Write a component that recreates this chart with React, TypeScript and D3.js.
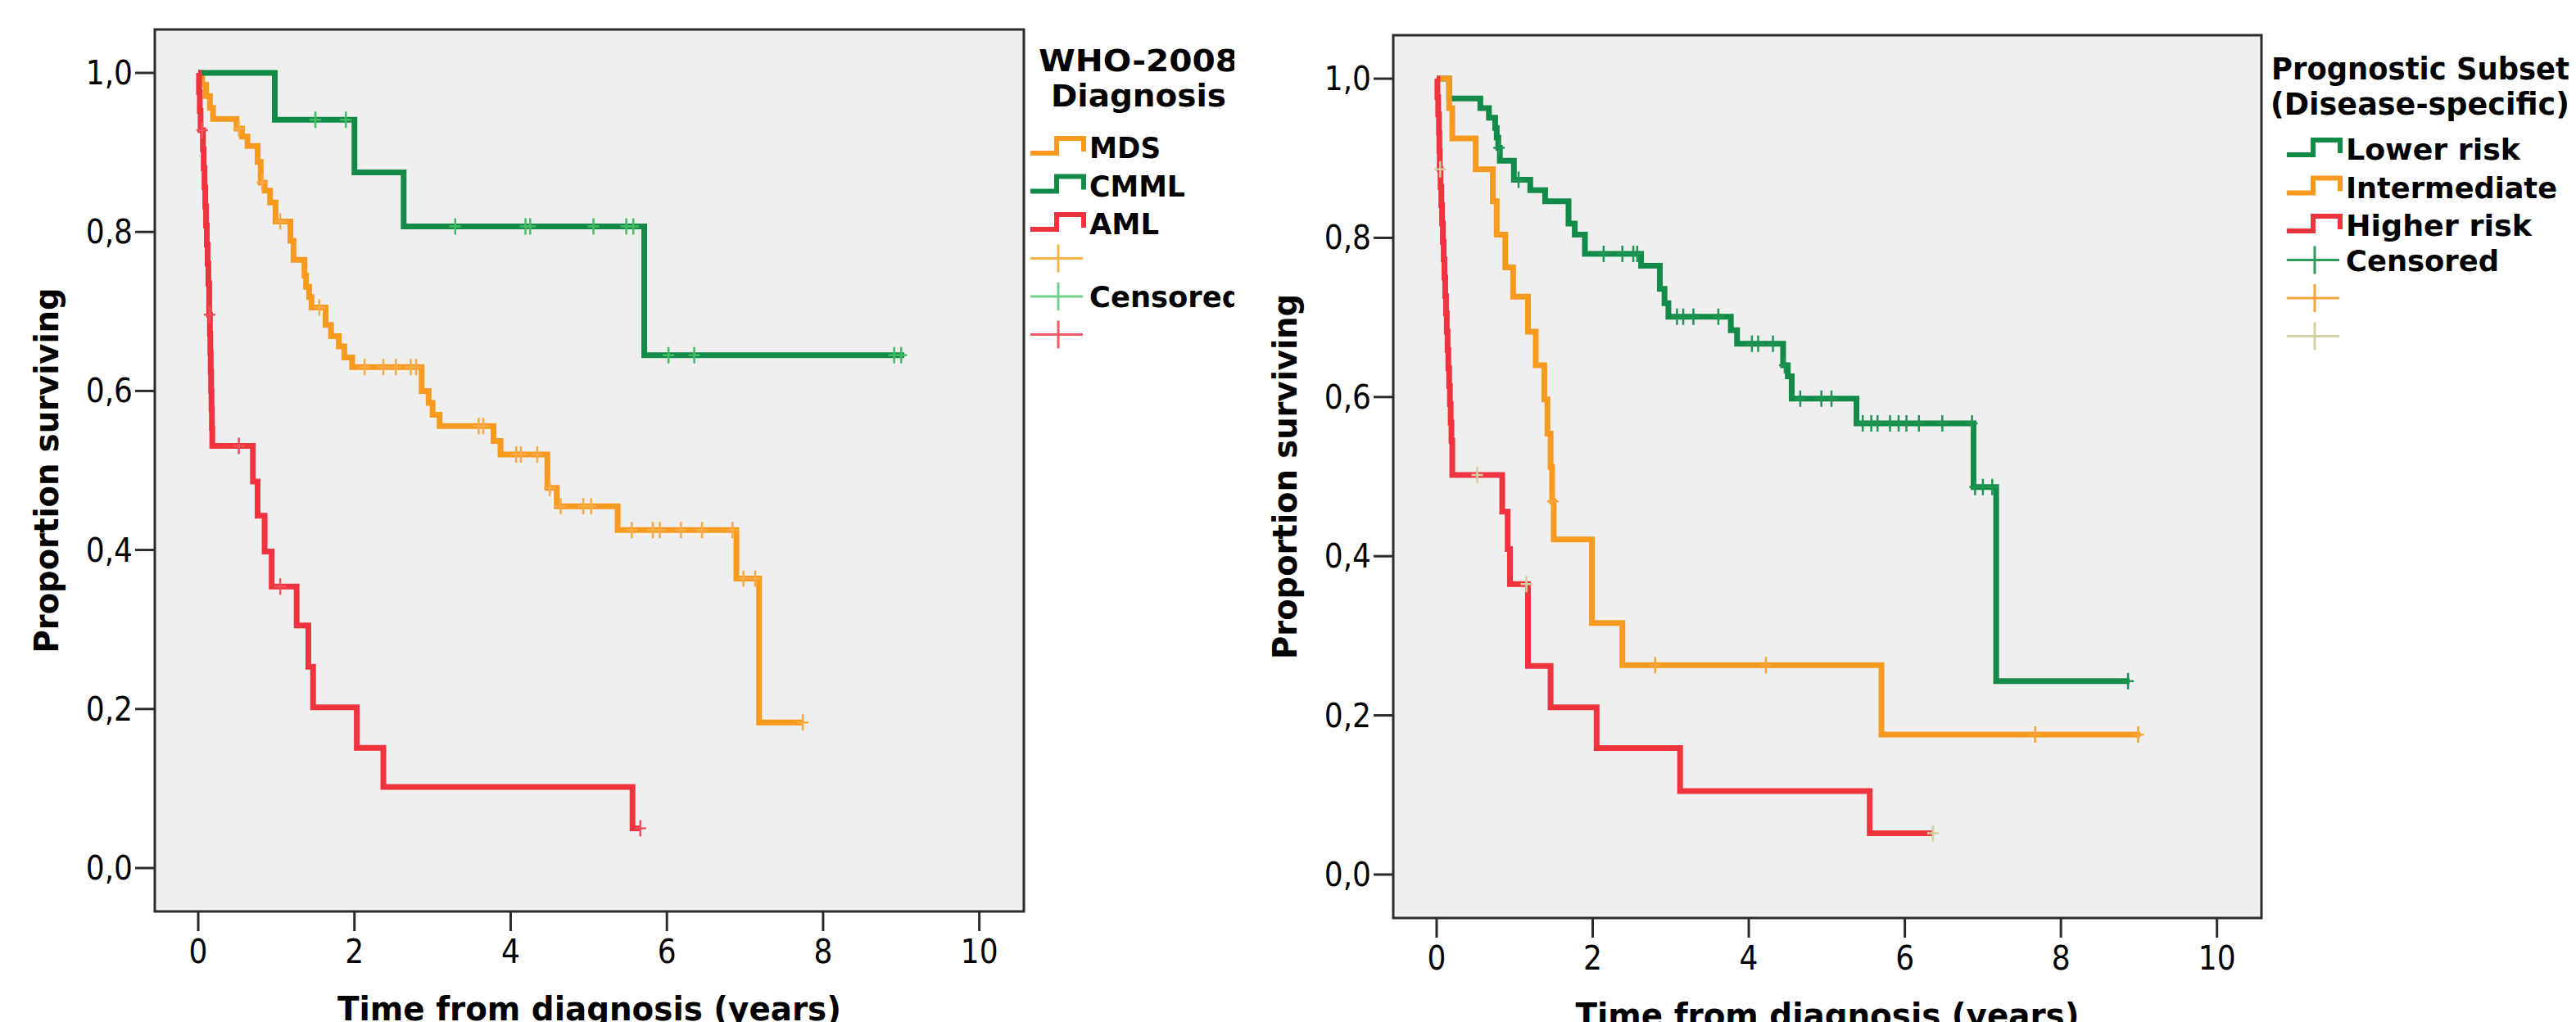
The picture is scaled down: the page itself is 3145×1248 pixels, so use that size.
import React from 'react';
import * as d3 from 'd3';

// axis ticks (shared by both panels)
const xTicks = [0, 2, 4, 6, 8, 10];
const yTicks = [0, 0.2, 0.4, 0.6, 0.8, 1.0];
const fmtY = (v: number) => v.toFixed(1).replace('.', ',');

// ---- left panel: WHO-2008 diagnosis ----
// steps are [time in years, proportion surviving after the event]
const mdsSteps: [number, number][] = [
  [0.05, 0.985], [0.1, 0.971], [0.15, 0.956], [0.19, 0.942], [0.49, 0.93], [0.56, 0.92],
  [0.63, 0.908], [0.76, 0.888], [0.8, 0.862], [0.85, 0.852], [0.92, 0.837], [0.99, 0.813],
  [1.18, 0.789], [1.22, 0.765], [1.36, 0.745], [1.38, 0.731], [1.42, 0.718], [1.45, 0.705],
  [1.63, 0.683], [1.7, 0.669], [1.8, 0.656], [1.87, 0.642], [1.97, 0.63], [2.86, 0.6],
  [2.95, 0.585], [3.0, 0.57], [3.09, 0.556], [3.78, 0.537], [3.87, 0.52], [4.47, 0.478],
  [4.59, 0.455], [5.37, 0.425], [6.89, 0.364], [7.18, 0.183]
];
const mdsCensored = [0.52, 0.82, 1.05, 1.55, 2.13, 2.37, 2.53, 2.72, 2.79, 3.59, 3.65, 4.07,
  4.13, 4.34, 4.5, 4.64, 4.93, 5.03, 5.55, 5.82, 5.91, 6.18, 6.45, 6.84, 6.98, 7.13, 7.74];
const mdsEnd = 7.74;

const cmmlSteps: [number, number][] = [[0.98, 0.941], [2.0, 0.875], [2.63, 0.807], [5.71, 0.645]];
const cmmlCensored = [1.5, 1.89, 3.29, 4.19, 4.25, 5.06, 5.48, 5.57, 6.02, 6.35, 8.91, 9.0];
const cmmlEnd = 9.04;

const amlSteps: [number, number][] = [
  [0.01, 0.976], [0.02, 0.952], [0.03, 0.928], [0.06, 0.904], [0.07, 0.88], [0.08, 0.856],
  [0.09, 0.832], [0.1, 0.808], [0.11, 0.784], [0.12, 0.76], [0.13, 0.735], [0.14, 0.696],
  [0.15, 0.672], [0.155, 0.648], [0.16, 0.624], [0.165, 0.6], [0.17, 0.577], [0.175, 0.553],
  [0.18, 0.531], [0.7, 0.486], [0.76, 0.443], [0.85, 0.398], [0.94, 0.354], [1.26, 0.305],
  [1.41, 0.253], [1.47, 0.202], [2.03, 0.151], [2.37, 0.102], [5.56, 0.05]
];
const amlCensored = [0.05, 0.145, 0.52, 1.05, 5.66];
const amlEnd = 5.66;

// ---- right panel: prognostic subset ----
const lowSteps: [number, number][] = [
  [0.16, 0.975], [0.56, 0.963], [0.67, 0.951], [0.75, 0.938], [0.77, 0.926], [0.79, 0.913],
  [0.81, 0.897], [0.99, 0.873], [1.2, 0.86], [1.39, 0.846], [1.69, 0.818], [1.77, 0.804],
  [1.9, 0.78], [2.62, 0.765], [2.86, 0.736], [2.92, 0.718], [2.97, 0.701], [3.77, 0.684],
  [3.85, 0.667], [4.44, 0.64], [4.5, 0.626], [4.55, 0.598], [5.38, 0.567], [6.88, 0.487],
  [7.17, 0.243]
];
const lowCensored = [0.8, 1.05, 2.14, 2.38, 2.52, 2.57, 3.08, 3.16, 3.29, 3.61, 4.04, 4.12,
  4.31, 4.46, 4.66, 4.93, 5.06, 5.46, 5.57, 5.65, 5.81, 5.92, 6.02, 6.18, 6.48, 6.86, 6.9,
  7.0, 7.12, 8.86];
const lowEnd = 8.88;

const midSteps: [number, number][] = [
  [0.16, 0.963], [0.2, 0.925], [0.5, 0.886], [0.72, 0.846], [0.77, 0.804], [0.88, 0.763],
  [0.98, 0.726], [1.17, 0.682], [1.27, 0.64], [1.38, 0.597], [1.42, 0.554], [1.46, 0.512],
  [1.48, 0.469], [1.5, 0.421], [1.99, 0.316], [2.38, 0.263], [5.7, 0.176]
];
const midCensored = [1.49, 2.8, 4.22, 7.67, 8.99];
const midEnd = 9.02;

const highSteps: [number, number][] = [
  [0.01, 0.977], [0.02, 0.955], [0.03, 0.932], [0.035, 0.909], [0.04, 0.886], [0.05, 0.864],
  [0.06, 0.841], [0.07, 0.818], [0.08, 0.795], [0.09, 0.773], [0.1, 0.75], [0.11, 0.727],
  [0.12, 0.705], [0.13, 0.682], [0.14, 0.659], [0.15, 0.636], [0.16, 0.614], [0.17, 0.591],
  [0.18, 0.568], [0.19, 0.545], [0.2, 0.502], [0.84, 0.456], [0.91, 0.409], [0.94, 0.365],
  [1.17, 0.262], [1.46, 0.21], [2.05, 0.159], [3.12, 0.105], [5.55, 0.052]
];
const highCensored = [0.045, 0.52, 1.15, 6.36];
const highEnd = 6.36;

const GREEN = '#138b48';
const ORANGE = '#f89a1f';
const RED = '#ef343f';

const FONT = "'DejaVu Sans Condensed', 'Liberation Sans Narrow', 'DejaVu Sans', sans-serif";

type Series = {
  steps: [number, number][];
  censored: number[];
  end: number;
  color: string;
  censorColor: string;
};

function survivalAt(steps: [number, number][], t: number) {
  let s = 1;
  steps.forEach(d => { if (d[0] <= t) s = d[1]; });
  return s;
}

function Panel(props: any) {
  const { frame, series, legend, yTitleX, xTitleY, clipRight, id } = props;
  const x = d3.scaleLinear().domain([-0.556, 10.57]).range([frame.x0, frame.x1]);
  const y = d3.scaleLinear().domain([-0.0546, 1.0546]).range([frame.y1, frame.y0]);
  const line = d3.line<[number, number]>()
    .x(d => x(d[0]))
    .y(d => y(d[1]))
    .curve(d3.curveStepAfter);

  const cx = (frame.x0 + frame.x1) / 2;
  const cy = (frame.y0 + frame.y1) / 2;
  const rowH = 46.5;

  return (
    <g clipPath={`url(#${id})`}>
      <clipPath id={id}>
        <rect x={clipRight - 1600} y={0} width={1600} height={1248} />
      </clipPath>
      <rect x={frame.x0} y={frame.y0} width={frame.x1 - frame.x0} height={frame.y1 - frame.y0}
        fill="#efefef" stroke="#2b2b2b" strokeWidth={3} />

      {series.map((s: Series, i: number) => {
        const last = s.steps[s.steps.length - 1][1];
        const pts: [number, number][] = [[0, 1], ...s.steps, [s.end, last]];
        return <path key={'l' + i} d={line(pts) || ''} fill="none" stroke={s.color} strokeWidth={7} />;
      })}
      {series.map((s: Series, i: number) => (
        <g key={'c' + i} stroke={s.censorColor} strokeWidth={2.5}>
          {s.censored.map((t, j) => {
            const px = x(t), py = y(survivalAt(s.steps, t));
            return <path key={j} d={`M${px},${py - 10}V${py + 10}M${px - 7},${py}H${px + 7}`} />;
          })}
        </g>
      ))}

      {/* y axis */}
      {yTicks.map(v => (
        <g key={'y' + v}>
          <line x1={frame.x0 - 24} x2={frame.x0} y1={y(v)} y2={y(v)} stroke="#2b2b2b" strokeWidth={3} />
          <text x={frame.x0 - 27} y={y(v) + 14} textAnchor="end" fontFamily={FONT} fontSize={40}>{fmtY(v)}</text>
        </g>
      ))}
      {/* x axis */}
      {xTicks.map(v => (
        <g key={'x' + v}>
          <line x1={x(v)} x2={x(v)} y1={frame.y1} y2={frame.y1 + 24} stroke="#2b2b2b" strokeWidth={3} />
          <text x={x(v)} y={frame.y1 + 63} textAnchor="middle" fontFamily={FONT} fontSize={40}>{v}</text>
        </g>
      ))}
      <text transform={`translate(${yTitleX},${cy}) rotate(-90)`} textAnchor="middle" fontFamily={FONT}
        fontWeight="bold" fontSize={41} textLength={446} lengthAdjust="spacingAndGlyphs">Proportion surviving</text>
      <text x={cx} y={xTitleY} textAnchor="middle" fontFamily={FONT} fontWeight="bold" fontSize={41}
        textLength={615} lengthAdjust="spacingAndGlyphs">Time from diagnosis (years)</text>

      {/* legend */}
      {legend.title.map((t: any, i: number) => (
        <text key={'t' + i} x={t.x} y={legend.titleY + i * 43} textAnchor={t.anchor} fontFamily={FONT}
          fontWeight="bold" fontSize={37} textLength={t.w} lengthAdjust="spacingAndGlyphs">{t.text}</text>
      ))}
      {legend.items.map((it: any, i: number) => {
        const b = legend.row0 + i * rowH;
        const lx = legend.x;
        return (
          <g key={'i' + i}>
            <path d={`M${lx},${b - 6}H${lx + 32}V${b - 24}H${lx + 65}V${b - 8}`} fill="none"
              stroke={it.color} strokeWidth={6} />
            <text x={lx + 72} y={b} fontFamily={FONT} fontWeight="bold" fontSize={36}
              textLength={it.w} lengthAdjust="spacingAndGlyphs">{it.label}</text>
          </g>
        );
      })}
      {legend.crosses.map((c: any, i: number) => {
        const cyy = legend.row0 + (i + 3) * rowH - 17;
        const lx = legend.x;
        return (
          <g key={'x' + i}>
            <path d={`M${lx},${cyy}H${lx + 64}M${lx + 34},${cyy - 17}V${cyy + 17}`} stroke={c.color} strokeWidth={3} />
            {c.label && (
              <text x={lx + 72} y={cyy + 13} fontFamily={FONT} fontWeight="bold" fontSize={36}
                textLength={187} lengthAdjust="spacingAndGlyphs">{c.label}</text>
            )}
          </g>
        );
      })}
    </g>
  );
}

export default function App() {
  const leftSeries: Series[] = [
    { steps: mdsSteps, censored: mdsCensored, end: mdsEnd, color: ORANGE, censorColor: '#f7ab47' },
    { steps: cmmlSteps, censored: cmmlCensored, end: cmmlEnd, color: GREEN, censorColor: '#45bb66' },
    { steps: amlSteps, censored: amlCensored, end: amlEnd, color: RED, censorColor: '#f0525c' }
  ];
  const rightSeries: Series[] = [
    { steps: lowSteps, censored: lowCensored, end: lowEnd, color: GREEN, censorColor: '#1f9553' },
    { steps: midSteps, censored: midCensored, end: midEnd, color: ORANGE, censorColor: '#f7a438' },
    { steps: highSteps, censored: highCensored, end: highEnd, color: RED, censorColor: '#d5cf9f' }
  ];
  const leftLegend = {
    x: 1258, row0: 193, titleY: 87,
    title: [{ text: 'WHO-2008', x: 1390, anchor: 'middle', w: 244 }, { text: 'Diagnosis', x: 1390, anchor: 'middle', w: 214 }],
    items: [{ label: 'MDS', color: ORANGE, w: 87 }, { label: 'CMML', color: GREEN, w: 117 }, { label: 'AML', color: RED, w: 85 }],
    crosses: [{ color: '#f8b14d' }, { color: '#74d18c', label: 'Censored' }, { color: '#f25a66' }]
  };
  const rightLegend = {
    x: 2792, row0: 195, titleY: 97,
    title: [{ text: 'Prognostic Subset', x: 2773, anchor: 'start', w: 364 }, { text: '(Disease-specific)', x: 2772, anchor: 'start', w: 365 }],
    items: [{ label: 'Lower risk', color: GREEN, w: 213 }, { label: 'Intermediate', color: ORANGE, w: 258 }, { label: 'Higher risk', color: RED, w: 227 }],
    crosses: [{ color: '#2a9a5a', label: 'Censored' }, { color: '#f7a33a' }, { color: '#d4d0a4' }]
  };
  return (
    <svg width={3145} height={1248} style={{ position: 'absolute', left: 0, top: 0, background: '#fff' }}>
      <Panel id="clipL" frame={{ x0: 189, x1: 1250, y0: 36, y1: 1113 }} series={leftSeries} legend={leftLegend}
        yTitleX={71} xTitleY={1246} clipRight={1507} />
      <Panel id="clipR" frame={{ x0: 1701, x1: 2761, y0: 43, y1: 1121 }} series={rightSeries} legend={rightLegend}
        yTitleX={1583} xTitleY={1254} clipRight={3145} />
    </svg>
  );
}
